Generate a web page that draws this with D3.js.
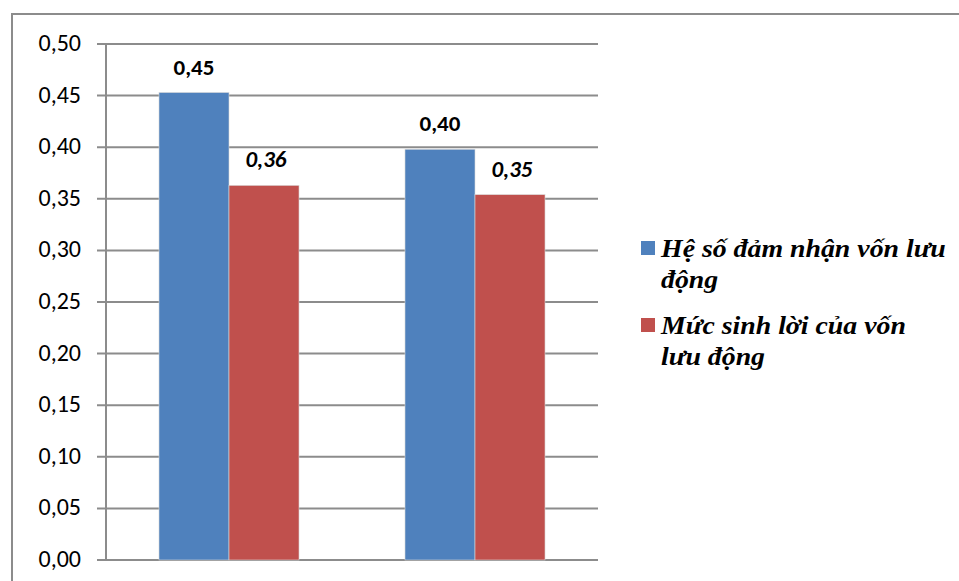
<!DOCTYPE html>
<html>
<head>
<meta charset="utf-8">
<script src="https://cdn.jsdelivr.net/npm/d3@7"></script>
<style>
  body { margin: 0; background: #fff; }
  svg { display: block; }
</style>
</head>
<body>
<div id="chart"></div>
<script>
const categories = ["Năm 1", "Năm 2"];
const seriesNames = ["Hệ số đảm nhận vốn lưu động", "Mức sinh lời của vốn lưu động"];
const heSoDamNhan = [0.453, 0.398];
const mucSinhLoi = [0.363, 0.354];
const valueLabels = [["0,45", "0,40"], ["0,36", "0,35"]];
const yTicks = [0, 0.05, 0.10, 0.15, 0.20, 0.25, 0.30, 0.35, 0.40, 0.45, 0.50];
const legendLines = [["Hệ số đảm nhận vốn lưu", "động"], ["Mức sinh lời của vốn", "lưu động"]];
const colors = ["#4f81bd", "#c0504d"];

const width = 959, height = 581;
const plot = { left: 106, right: 598, top: 44, bottom: 560 };
const numFont = "Carlito, Calibri, Lato, sans-serif";
const legendFont = "\"Liberation Serif\", \"Times New Roman\", serif";

const svg = d3.select("#chart").append("svg")
    .attr("width", width)
    .attr("height", height);

// outer chart frame (runs off the right and bottom edges)
svg.append("rect")
    .attr("x", 12).attr("y", 14)
    .attr("width", 1000).attr("height", 700)
    .attr("fill", "none")
    .attr("stroke", "#8c8c8c")
    .attr("stroke-width", 2);

const y = d3.scaleLinear().domain([0, 0.5]).range([plot.bottom, plot.top]);
const x0 = d3.scaleBand().domain(categories).range([plot.left, plot.right]).paddingInner(0).paddingOuter(0);
const x1 = d3.scaleBand().domain([0, 1]).range([0, x0.bandwidth()]).paddingInner(0).paddingOuter(0.757);

// gridlines
svg.append("g")
    .selectAll("line")
    .data(yTicks)
    .enter()
    .append("line")
    .attr("x1", plot.left - 9)
    .attr("x2", plot.right)
    .attr("y1", d => y(d))
    .attr("y2", d => y(d))
    .attr("stroke", "#8c8c8c")
    .attr("stroke-width", 2);

// y axis line
svg.append("line")
    .attr("x1", plot.left).attr("x2", plot.left)
    .attr("y1", plot.top).attr("y2", plot.bottom)
    .attr("stroke", "#8c8c8c")
    .attr("stroke-width", 2);

// y tick labels
svg.append("g")
    .selectAll("text")
    .data(yTicks)
    .enter()
    .append("text")
    .attr("x", 81)
    .attr("y", d => y(d) + 7)
    .attr("text-anchor", "end")
    .style("font-family", numFont)
    .style("font-size", "24px")
    .attr("fill", "#000")
    .text(d => d3.format(".2f")(d).replace(".", ","));

const series = [heSoDamNhan, mucSinhLoi];

const groups = svg.append("g")
    .selectAll("g")
    .data(categories)
    .enter()
    .append("g")
    .attr("transform", d => `translate(${x0(d)},0)`);

groups.selectAll("rect")
    .data((d, i) => series.map((s, k) => ({ k, v: s[i] })))
    .enter()
    .append("rect")
    .attr("x", d => x1(d.k))
    .attr("y", d => y(d.v))
    .attr("width", x1.bandwidth())
    .attr("height", d => y(0) - y(d.v))
    .attr("fill", d => colors[d.k])
    .attr("stroke", "#d9d9d9")
    .attr("stroke-width", 0.6);

groups.selectAll("text")
    .data((d, i) => series.map((s, k) => ({ k, v: s[i], label: valueLabels[k][i] })))
    .enter()
    .append("text")
    .attr("x", d => x1(d.k) + x1.bandwidth() / 2 + (d.k === 1 ? 2 : 0))
    .attr("y", d => y(d.v) - 18)
    .attr("text-anchor", "middle")
    .style("font-family", numFont)
    .style("font-size", "23px")
    .style("font-weight", "bold")
    .style("font-style", d => d.k === 1 ? "italic" : "normal")
    .attr("fill", "#000")
    .text(d => d.label);

// legend
const legend = svg.append("g")
    .selectAll("g")
    .data(seriesNames)
    .enter()
    .append("g")
    .attr("transform", (d, i) => `translate(641,${241 + i * 77})`);

legend.append("rect")
    .attr("width", 14)
    .attr("height", 14)
    .attr("fill", (d, i) => colors[i]);

const legendText = legend.append("text")
    .attr("transform", "translate(20,0)")
    .style("font-family", legendFont)
    .style("font-size", "25px")
    .style("font-weight", "bold")
    .style("font-style", "italic")
    .attr("fill", "#000");

legendText.selectAll("tspan")
    .data((d, i) => legendLines[i])
    .enter()
    .append("tspan")
    .attr("x", 0)
    .attr("y", (d, j) => 16 + j * 31)
    .text(d => d);

// the source legend is set a little wider than the font; stretch to match
const firstLine = legendText.select("tspan").node();
const stretch = 285 / firstLine.getComputedTextLength();
legendText.attr("transform", `translate(20,0) scale(${stretch},1)`);
</script>
</body>
</html>
